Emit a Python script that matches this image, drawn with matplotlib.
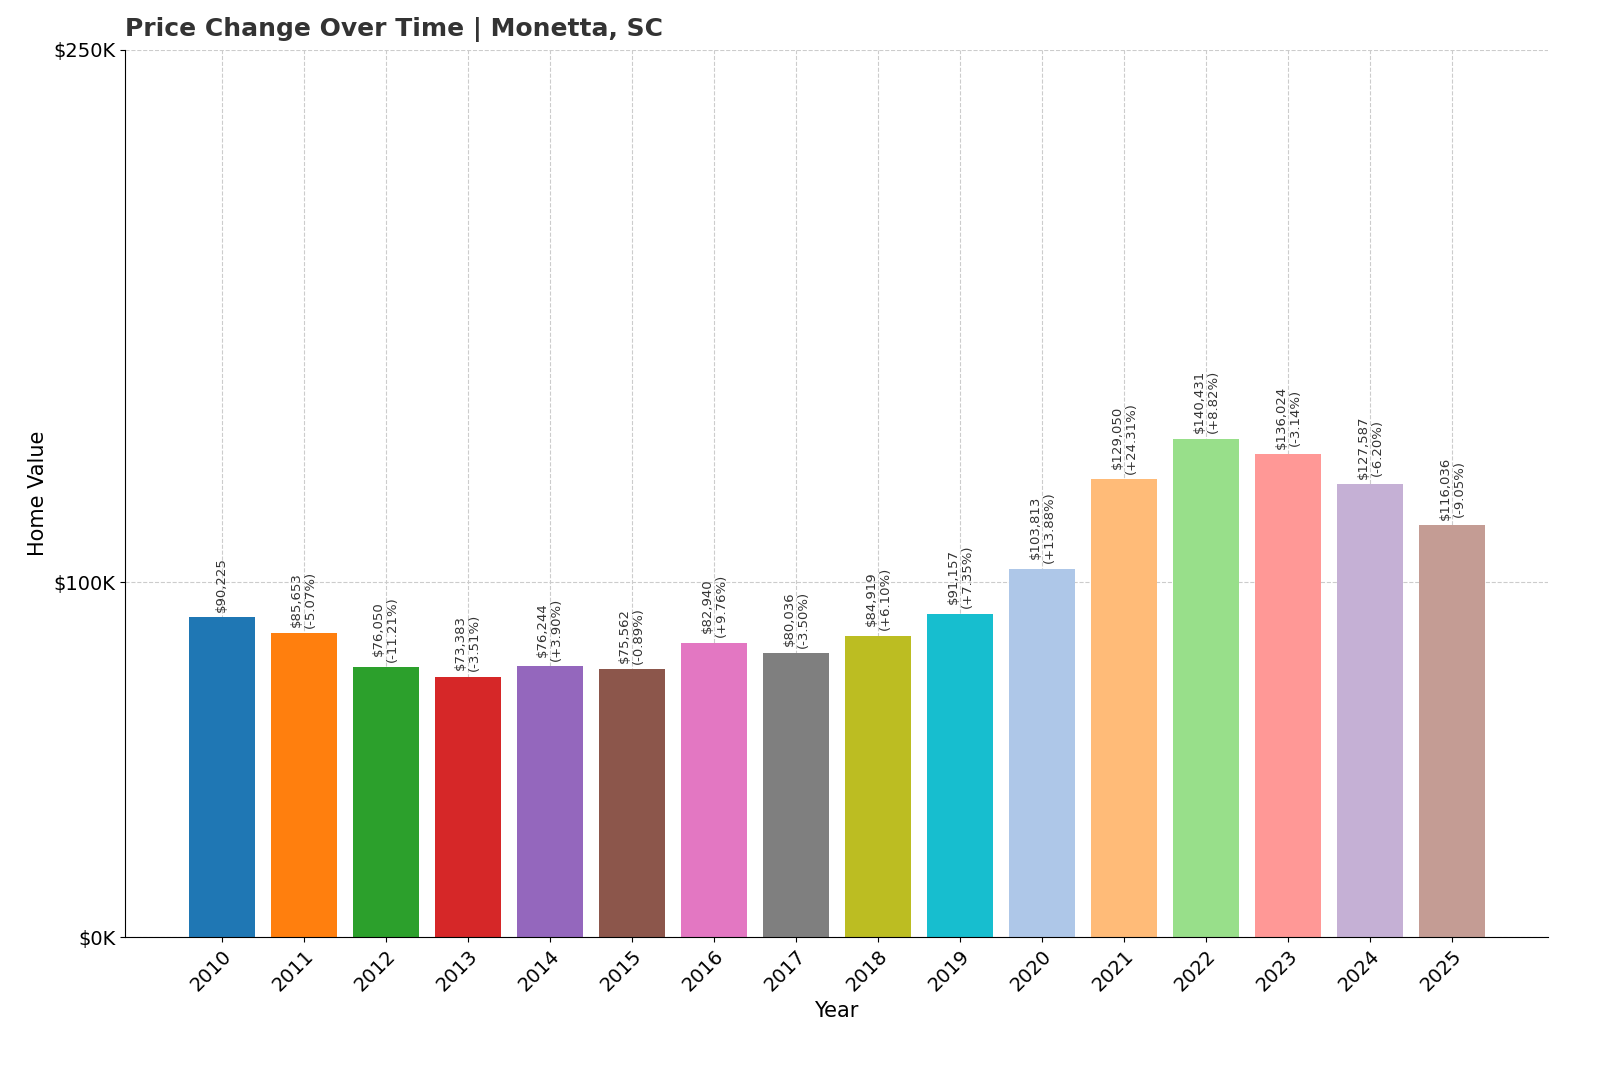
import matplotlib
matplotlib.use("Agg")
import matplotlib.pyplot as plt
import matplotlib.ticker as mt

years = ["2010","2011","2012","2013","2014","2015","2016","2017","2018","2019","2020","2021","2022","2023","2024","2025"]
values = [90225,85653,76050,73383,76244,75562,82940,80036,84919,91157,103813,129050,140431,136024,127587,116036]
changes = [None,"-5.07%","-11.21%","-3.51%","+3.90%","-0.89%","+9.76%","-3.50%","+6.10%","+7.35%","+13.88%","+24.31%","+8.82%","-3.14%","-6.20%","-9.05%"]

colors = list(plt.cm.tab20.colors[0::2]) + list(plt.cm.tab20.colors[1::2])[:6]

fig = plt.figure(figsize=(16, 10.67), dpi=100)
ax = fig.add_axes([125/1600, 1-937/1067, (1548-125)/1600, (937-50)/1067])
x = list(range(len(years)))
ax.bar(x, values, width=0.8, color=colors[:len(years)], zorder=2)
for i, v in enumerate(values):
    lab = f"${v:,}" if changes[i] is None else f"${v:,}\n({changes[i]})"
    ax.text(i, v + 1500, lab, rotation=90, ha="center", va="bottom", fontsize=9.5, color="#333333", linespacing=1.1)
ax.set_xlim(-1.18, 16.17)
ax.set_ylim(0, 250000)
ax.set_yticks([0, 100000, 250000])
ax.yaxis.set_major_formatter(mt.FuncFormatter(lambda v, p: f"${int(v/1000)}K"))
ax.set_xticks(x)
ax.set_xticklabels(years, rotation=45, ha="right", rotation_mode="anchor")
ax.tick_params(labelsize=14)
ax.grid(True, linestyle="--", color="#cccccc", linewidth=0.8, zorder=0)
ax.set_axisbelow(True)
ax.spines["top"].set_visible(False)
ax.spines["right"].set_visible(False)
ax.set_xlabel("Year", fontsize=15)
ax.set_ylabel("Home Value", fontsize=15)
fig.text(125/1600, 1-30/1067, "Price Change Over Time | Monetta, SC", fontsize=18, fontweight="bold", color="#333333", va="center")
fig.savefig("out.png", dpi=100)
